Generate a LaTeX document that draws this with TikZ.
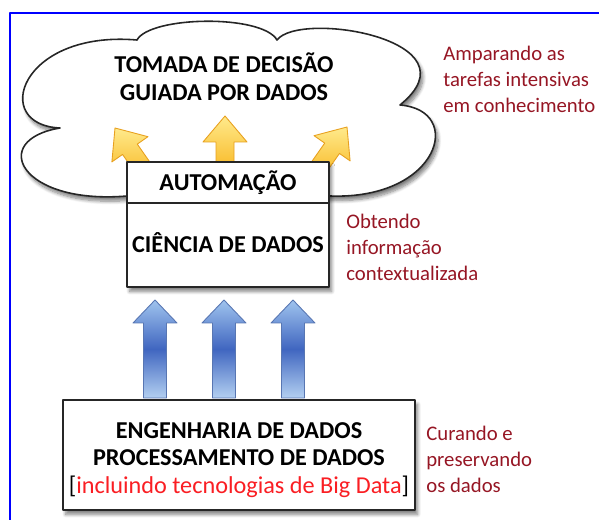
\documentclass[tikz,border=0pt]{standalone}
\usepackage{fontspec}
\setmainfont{Carlito}
\usetikzlibrary{shadows.blur}
\definecolor{vinho}{RGB}{150,22,36}
\definecolor{vermelho}{RGB}{250,30,35}
\definecolor{azulclaro}{RGB}{160,196,238}
\definecolor{azulescuro}{RGB}{64,102,192}
\definecolor{azulborda}{RGB}{88,118,178}
\definecolor{amareloclaro}{RGB}{255,234,140}
\definecolor{amareloescuro}{RGB}{247,178,24}
\definecolor{amareloborda}{RGB}{232,160,30}
\begin{document}
\begin{tikzpicture}[x=0.02cm,y=-0.02cm,line join=round,
	sombra/.style={blur shadow={shadow xshift=1.5pt,shadow yshift=-2.5pt,shadow blur steps=8,shadow opacity=50}},
	caixa/.style={draw=black!85,line width=0.9pt,fill=white,sombra,inner sep=0pt},
	titulo/.style={font=\fontsize{13.8}{15.8}\selectfont\bfseries,align=center,inner sep=0pt},
	nota/.style={text=vinho,font=\fontsize{11.8}{14.6}\selectfont,align=left,anchor=north west,inner sep=0pt}]
	\useasboundingbox (0,0) rectangle (599,520);
	\draw[blue,line width=1.5pt] (10,520)--(10,13)--(599,13);
	\draw[caixa] (60,128) .. controls (-10,125) and (20,30) .. (137,40) .. controls (150,16) and (262,14) .. (277,40) .. controls (300,10) and (480,40) .. (400,105) .. controls (465,110) and (440,200) .. (330,196) .. controls (260,205) and (190,205) .. (127,196) .. controls (20,205) and (-12,140) .. cycle;
	\node[titulo] (tomada) at (224,77) {TOMADA DE DECISÃO\\GUIADA POR DADOS};
	\foreach \x/\y/\a in {115/128/35,225/116/0,347/127/-35}
		\draw[draw=amareloborda,line width=0.5pt,top color=amareloclaro,bottom color=amareloescuro,shift={(\x,\y)},rotate=\a] (0,0)--(22,26)--(9,26)--(9,62)--(-9,62)--(-9,26)--(-22,26)--cycle;
	\node[caixa,minimum width=4.04cm,minimum height=2.5cm] (ciencia) at (228,224.5) {};
	\coordinate (divisa) at (0,203);
	\draw[draw=black!85,line width=0.9pt] (ciencia.west|-divisa)--(ciencia.east|-divisa);
	\node[titulo] (automacao) at (228,183) {AUTOMAÇÃO};
	\node[titulo] (dados) at (228,243) {CIÊNCIA DE DADOS};
	\foreach \x in {155,224,293}
		\draw[draw=azulborda,line width=0.5pt,top color=azulclaro,bottom color=azulclaro!80!white,middle color=azulescuro,shift={(\x,300)}] (0,0)--(22,23)--(11.5,23)--(11.5,98)--(-11.5,98)--(-11.5,23)--(-22,23)--cycle;
	\node[caixa,minimum width=7.04cm,minimum height=2.2cm] (engenharia) at (239,455) {};
	\node[titulo] (processamento) at (239,460) {ENGENHARIA DE DADOS\\PROCESSAMENTO DE DADOS\\\mdseries[\textcolor{vermelho}{incluindo tecnologias de Big Data}]};
	\node[nota] (amparando) at (443,46) {Amparando as\\tarefas intensivas\\em conhecimento};
	\node[nota] (obtendo) at (346,214) {Obtendo\\informação\\contextualizada};
	\node[nota] (curando) at (426,426) {Curando e\\preservando\\os dados};
\end{tikzpicture}
\end{document}
